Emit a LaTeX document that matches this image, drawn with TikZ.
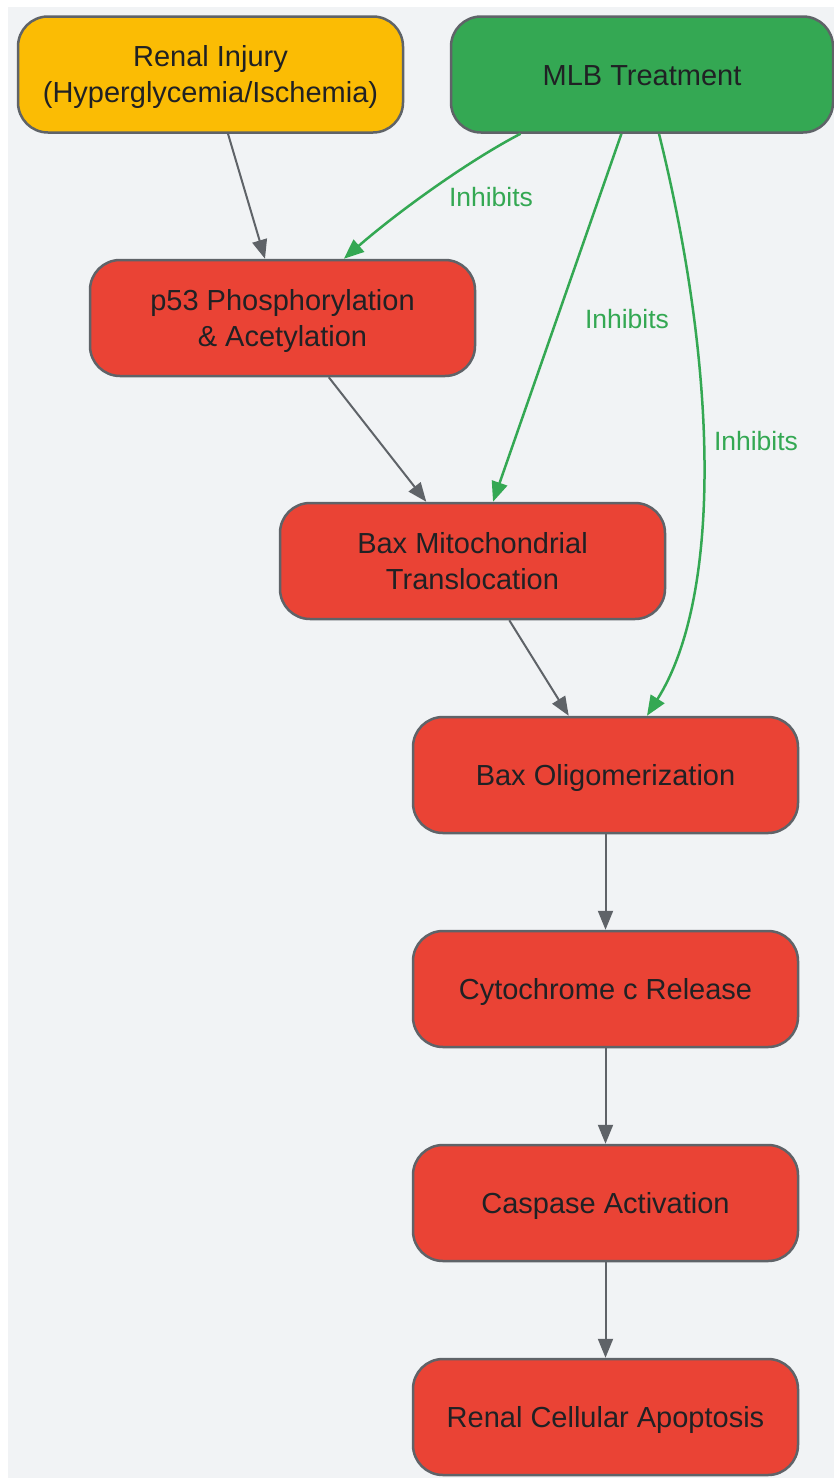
\documentclass[tikz,border=0pt]{standalone}
\usepackage{fontspec}
\setmainfont{Liberation Sans}
\usetikzlibrary{arrows.meta}
\definecolor{bg}{HTML}{F1F3F5}
\definecolor{edge}{HTML}{5F6368}
\definecolor{ink}{HTML}{202124}
\definecolor{injury}{HTML}{FBBC04}
\definecolor{treat}{HTML}{34A853}
\definecolor{path}{HTML}{EA4335}
\newcommand{\stb}{\rule[-6pt]{0pt}{33pt}}

\begin{document}
\begin{tikzpicture}[x=1pt,y=-1pt,
    box/.style={draw=edge, line width=2.5pt, rounded corners=30pt,
        minimum width=385pt, minimum height=116pt, inner sep=0pt,
        align=center, text=ink, font=\fontsize{29}{36}\selectfont},
    flow/.style={draw=edge, line width=2pt, -{Triangle[length=19pt,width=15pt]}},
    inhib/.style={draw=treat, line width=2.5pt, -{Triangle[length=20pt,width=16pt]}},
    lbl/.style={text=treat, font=\fontsize{26.5}{30}\selectfont}]
    \useasboundingbox (0,0) rectangle (834,1478);
    \fill[bg] (8,7) rectangle (834,1478);

    \node[box, fill=injury] (inj) at (210.5,74.5) {\stb Renal Injury\\\stb(Hyperglycemia/Ischemia)};
    \node[box, fill=treat, minimum width=382pt] (mlb) at (642,74.5) {\stb MLB Treatment};
    \node[box, fill=path] (p53) at (282.5,318) {\stb p53 Phosphorylation\\\stb\& Acetylation};
    \node[box, fill=path] (bmt) at (472.5,561) {\stb Bax Mitochondrial\\\stb Translocation};
    \node[box, fill=path] (bol) at (605.5,775) {\stb Bax Oligomerization};
    \node[box, fill=path] (cyt) at (605.5,989) {\stb Cytochrome c Release};
    \node[box, fill=path] (cas) at (605.5,1203) {\stb Caspase Activation};
    \node[box, fill=path] (apo) at (605.5,1417) {\stb Renal Cellular Apoptosis};

    \draw[flow] (inj) -- (p53);
    \draw[flow] (p53) -- (bmt);
    \draw[flow] (bmt) -- (bol);
    \draw[flow] (bol) -- (cyt);
    \draw[flow] (cyt) -- (cas);
    \draw[flow] (cas) -- (apo);

    \draw[inhib] (mlb.206) .. controls (470,160) and (400,210) .. (p53.44);
    \draw[inhib] (mlb) -- (bmt);
    \draw[inhib] (mlb.286) .. controls (720,380) and (720,600) .. (bol.55);

    \node[lbl] (l1) at (491,197) {Inhibits};
    \node[lbl] (l2) at (627,319) {Inhibits};
    \node[lbl] (l3) at (756,441) {Inhibits};
\end{tikzpicture}
\end{document}
